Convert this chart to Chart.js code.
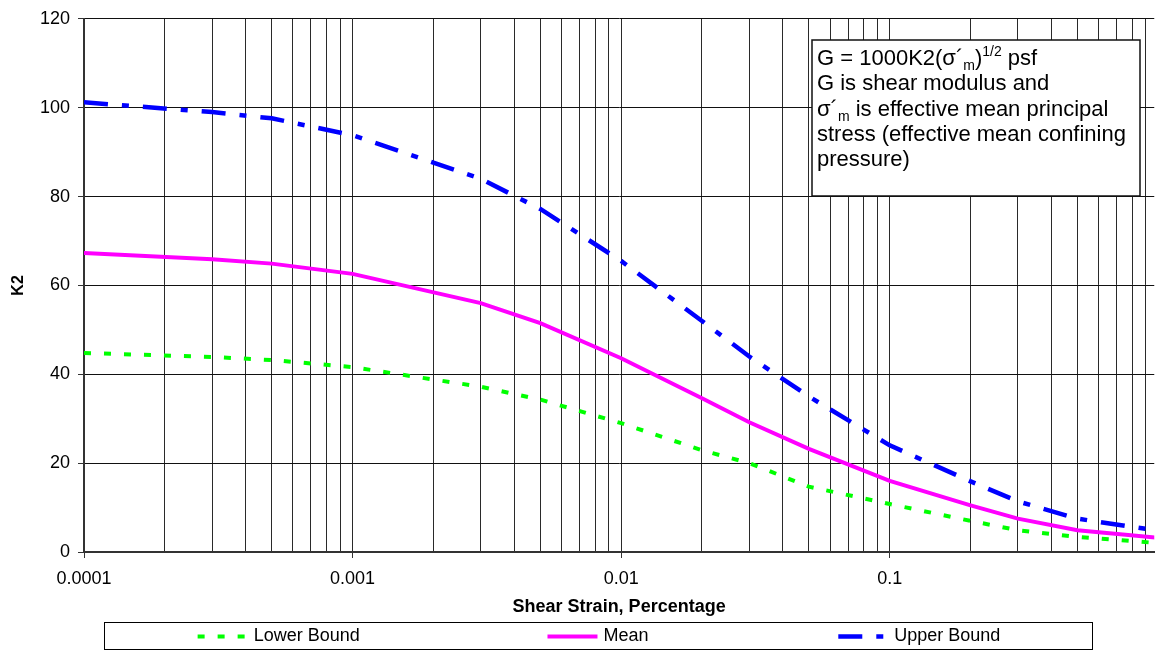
<!DOCTYPE html>
<html>
<head>
<meta charset="utf-8">
<title>K2 vs Shear Strain</title>
<script src="https://cdn.jsdelivr.net/npm/chart.js@4.4.1/dist/chart.umd.min.js"></script>
<style>
  html, body { margin: 0; padding: 0; background: #fff; }
  canvas { display: block; }
</style>
</head>
<body>
<canvas id="k2Chart" width="1156" height="653"></canvas>
<script>
const strain = [0.0001, 0.0003, 0.0005, 0.001, 0.003, 0.005, 0.01, 0.02, 0.03, 0.05, 0.1, 0.2, 0.3, 0.5, 1];
const lowerBound = [44.8, 43.9, 43.2, 41.6, 37.2, 34.3, 29.0, 22.9, 20.0, 14.7, 10.8, 7.0, 4.9, 3.4, 2.0];
const meanK2 = [67.3, 65.9, 64.9, 62.6, 56.0, 51.5, 43.6, 34.6, 29.2, 23.2, 16.0, 10.5, 7.5, 4.9, 3.2];
const upperBound = [101.2, 99.0, 97.6, 93.8, 84.0, 77.2, 65.5, 52.0, 44.0, 35.0, 24.0, 15.9, 11.4, 7.5, 4.8];

const xTickValues = [0.0001, 0.001, 0.01, 0.1];
const xTickLabels = ["0.0001", "0.001", "0.01", "0.1"];

const FONT = "'Liberation Sans', Arial, sans-serif";
const X_MIN = 0.0001;
const X_MAX = 0.966;

// vertical grid: 1..9 in every decade
const gridValues = [];
xTickValues.forEach(d => {
    for (let m = 1; m <= 9; m++) {
        const v = +(d * m).toPrecision(6);
        if (v <= X_MAX) gridValues.push(v);
    }
});

function isDecade(v) {
    const l = Math.log10(v);
    return Math.abs(l - Math.round(l)) < 1e-6;
}

function toPoints(values) {
    return strain.map((s, i) => ({ x: s, y: values[i] }));
}

// Excel-like legend with a box under the x title
const boxLegend = {
    id: "boxLegend",
    afterDraw(chart) {
        const ctx = chart.ctx;
        const left = 104, right = 1092, top = 622, bottom = 649;
        ctx.save();
        ctx.strokeStyle = "#000";
        ctx.lineWidth = 1;
        ctx.strokeRect(left + 0.5, top + 0.5, right - left, bottom - top);
        ctx.font = "18px " + FONT;
        ctx.textBaseline = "middle";
        ctx.textAlign = "left";
        const sets = chart.data.datasets;
        const slot = (right - left) / sets.length;
        const midY = (top + bottom) / 2 + 1;
        const nudge = [10, 0, -8];
        sets.forEach((ds, i) => {
            const tw = ctx.measureText(ds.label).width;
            const total = 50 + 6 + tw;
            const x0 = left + slot * i + slot / 2 - total / 2 + nudge[i];
            ctx.beginPath();
            ctx.setLineDash(ds.borderDash || []);
            ctx.strokeStyle = ds.borderColor;
            ctx.lineWidth = ds.borderWidth;
            ctx.moveTo(x0, midY);
            ctx.lineTo(x0 + 50, midY);
            ctx.stroke();
            ctx.setLineDash([]);
            ctx.fillStyle = "#000";
            ctx.fillText(ds.label, x0 + 56, midY);
        });
        ctx.restore();
    }
};

// text box in the upper right corner
const noteBox = {
    id: "noteBox",
    afterDraw(chart) {
        const ctx = chart.ctx;
        const bx = 812, by = 40, bw = 328, bh = 156;
        ctx.save();
        ctx.fillStyle = "#fff";
        ctx.fillRect(bx, by, bw, bh);
        ctx.strokeStyle = "#111";
        ctx.lineWidth = 1.5;
        ctx.strokeRect(bx, by, bw, bh);
        ctx.fillStyle = "#000";
        ctx.textBaseline = "alphabetic";
        ctx.textAlign = "left";

        const lines = [
            [{ t: "G = 1000K2(σ´" }, { t: "m", small: true, shift: 5 }, { t: ")" }, { t: "1/2", small: true, shift: -9 }, { t: " psf" }],
            [{ t: "G is shear modulus and" }],
            [{ t: "σ´" }, { t: "m", small: true, shift: 5 }, { t: " is effective mean principal" }],
            [{ t: "stress (effective mean confining" }],
            [{ t: "pressure)" }]
        ];
        lines.forEach((parts, i) => {
            let x = bx + 5;
            const y = 65 + i * 25.3;
            parts.forEach(p => {
                ctx.font = (p.small ? 14 : 22) + "px " + FONT;
                ctx.fillText(p.t, x, y + (p.shift || 0));
                x += ctx.measureText(p.t).width;
            });
        });
        ctx.restore();
    }
};

const ctxK2 = document.getElementById("k2Chart").getContext("2d");
new Chart(ctxK2, {
    type: "line",
    data: {
        datasets: [{
            label: "Lower Bound",
            data: toPoints(lowerBound),
            borderColor: "#00ff00",
            borderWidth: 4,
            borderDash: [7, 13],
            pointRadius: 0,
            tension: 0,
            fill: false
        }, {
            label: "Mean",
            data: toPoints(meanK2),
            borderColor: "#ff00ff",
            borderWidth: 4,
            pointRadius: 0,
            tension: 0,
            fill: false
        }, {
            label: "Upper Bound",
            data: toPoints(upperBound),
            borderColor: "#0000ff",
            borderWidth: 4.5,
            borderDash: [24, 14, 7, 14],
            pointRadius: 0,
            tension: 0,
            fill: false
        }]
    },
    options: {
        responsive: false,
        animation: false,
        layout: { padding: { top: 14, right: 0, left: 0, bottom: 0 } },
        plugins: {
            legend: { display: false },
            tooltip: { enabled: false }
        },
        scales: {
            x: {
                type: "logarithmic",
                min: X_MIN,
                max: X_MAX,
                afterBuildTicks: axis => {
                    axis.ticks = gridValues.map(v => ({ value: v, major: isDecade(v) }));
                },
                afterFit: scale => { scale.height = 101; },
                ticks: {
                    autoSkip: false,
                    maxRotation: 0,
                    padding: 10,
                    color: "#000",
                    font: { family: FONT, size: 18 },
                    callback: v => {
                        const i = xTickValues.findIndex(t => Math.abs(Math.log10(t) - Math.log10(v)) < 1e-6);
                        return i >= 0 ? xTickLabels[i] : "";
                    }
                },
                grid: {
                    color: "#2a2a2a",
                    lineWidth: 1,
                    tickLength: 6,
                    tickColor: c => (c.tick && isDecade(c.tick.value)) ? "#333" : "rgba(0,0,0,0)"
                },
                border: { color: "#333", width: 2 },
                title: {
                    display: true,
                    text: "Shear Strain, Percentage",
                    color: "#000",
                    font: { family: FONT, size: 18, weight: "bold" },
                    padding: { top: 0, bottom: 35 }
                }
            },
            y: {
                min: 0,
                max: 120,
                afterFit: scale => { scale.width = 84; },
                ticks: {
                    stepSize: 20,
                    padding: 8,
                    color: "#000",
                    font: { family: FONT, size: 18 }
                },
                grid: {
                    color: "#111",
                    lineWidth: 1,
                    tickLength: 6,
                    tickColor: "#333"
                },
                border: { color: "#333", width: 2 },
                title: {
                    display: true,
                    text: "K2",
                    color: "#000",
                    font: { family: FONT, size: 16, weight: "bold" },
                    padding: { top: 9, bottom: 0 }
                }
            }
        }
    },
    plugins: [noteBox, boxLegend]
});
</script>
</body>
</html>
